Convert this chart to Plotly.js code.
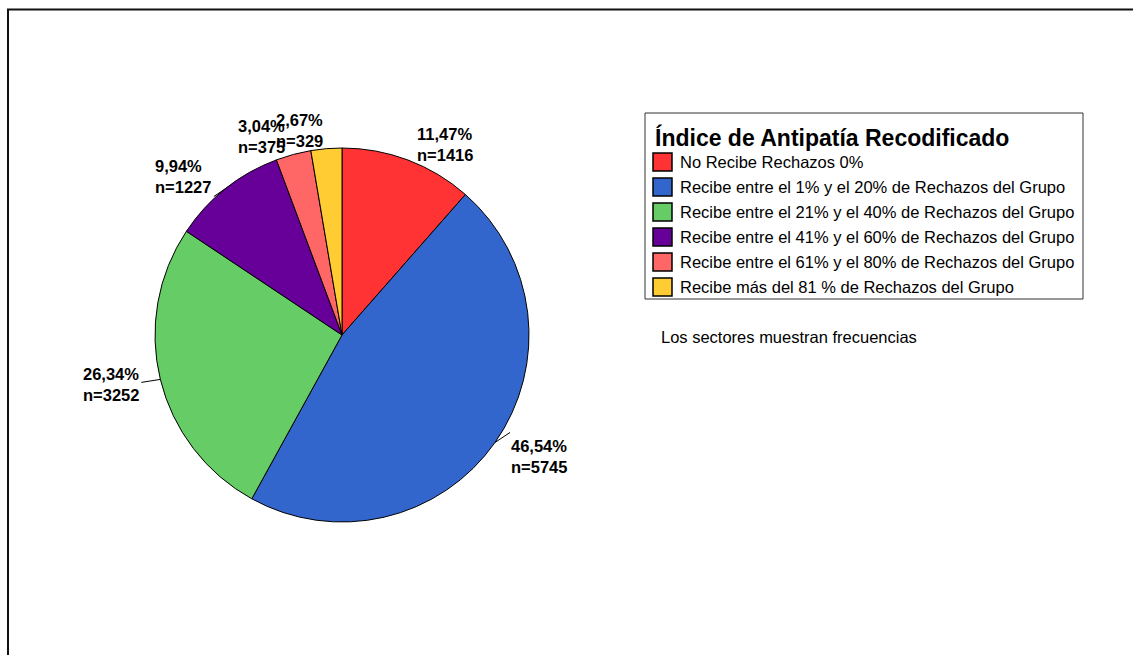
<!DOCTYPE html>
<html>
<head>
<meta charset="utf-8">
<script src="https://cdn.plot.ly/plotly-3.0.1.min.js"></script>
<style>html,body{margin:0;padding:0;background:#fff;}#chart{width:1133px;height:655px;}</style>
</head>
<body>
<div id="chart"></div>
<script>
// ---- data ----
const categories = [
  "No Recibe Rechazos 0%",
  "Recibe entre el 1% y el 20% de Rechazos del Grupo",
  "Recibe entre el 21% y el 40% de Rechazos del Grupo",
  "Recibe entre el 41% y el 60% de Rechazos del Grupo",
  "Recibe entre el 61% y el 80% de Rechazos del Grupo",
  "Recibe más del 81 % de Rechazos del Grupo"
];
const counts = [1416, 5745, 3252, 1227, 375, 329];
const colors = ["#FF3333", "#3366CC", "#66CC66", "#660099", "#FF6666", "#FFCC33"];
const legendTitle = "Índice de Antipatía Recodificado";
const note = "Los sectores muestran frecuencias";

// ---- layout helpers ----
const W = 1133, H = 655;
const px = x => x / W;
const py = y => 1 - y / H;
const pie = {x0: 155, x1: 529, y0: 148, y1: 522};
const cx = (pie.x0 + pie.x1) / 2, cy = (pie.y0 + pie.y1) / 2, R = (pie.x1 - pie.x0) / 2;
const FONT = "Liberation Sans, Arial, sans-serif";

// label placement (pixel offsets from the slice's rim point) and leader lines
const labelOffsets = [[7, -16, 'left'], [14, 14, 'left'], [-19, 5.5, 'right'], [-13, -12, 'right'], [-6, -18, 'right'], [-1, -18, 'right']];
const leaders = [null, [15, -10], [-19, 3], [-12, 8], null, null];

const total = counts.reduce((a, b) => a + b, 0);
const annotations = [];
const shapes = [];
let cum = 0;
counts.forEach((v, i) => {
  const mid = (cum + v / 2) / total * 2 * Math.PI;
  cum += v;
  const Px = cx + R * Math.sin(mid), Py = cy - R * Math.cos(mid);
  const pct = (v / total * 100).toFixed(2).replace('.', ',');
  const o = labelOffsets[i];
  annotations.push({
    xref: 'paper', yref: 'paper', x: px(Px + o[0]), y: py(Py + o[1]),
    xanchor: o[2], yanchor: 'middle', align: 'left', showarrow: false,
    text: '<b>' + pct + '%<br>n=' + v + '</b>',
    font: {family: FONT, size: 16.5, color: '#000'}
  });
  if (leaders[i]) {
    shapes.push({type: 'line', xref: 'paper', yref: 'paper',
      x0: px(Px), y0: py(Py), x1: px(Px + leaders[i][0]), y1: py(Py + leaders[i][1]),
      line: {color: '#000', width: 1}});
  }
});

// ---- legend box (drawn from categories / colors) ----
const leg = {x0: 645, x1: 1083, y0: 113, y1: 299, titleY: 137, row0: 162, rowStep: 25, swX: 653, swW: 19, swH: 18, textX: 678};
shapes.push({type: 'rect', xref: 'paper', yref: 'paper', x0: px(leg.x0), x1: px(leg.x1), y0: py(leg.y1), y1: py(leg.y0),
  line: {color: '#333', width: 1}, fillcolor: '#fff', layer: 'below'});
annotations.push({xref: 'paper', yref: 'paper', x: px(leg.swX), y: py(leg.titleY), xanchor: 'left', yanchor: 'middle',
  showarrow: false, text: '<b>' + legendTitle + '</b>', font: {family: FONT, size: 23, color: '#000'}});
categories.forEach((c, i) => {
  const yc = leg.row0 + i * leg.rowStep;
  shapes.push({type: 'rect', xref: 'paper', yref: 'paper', x0: px(leg.swX), x1: px(leg.swX + leg.swW),
    y0: py(yc + leg.swH / 2), y1: py(yc - leg.swH / 2), line: {color: '#000', width: 1.5}, fillcolor: colors[i]});
  annotations.push({xref: 'paper', yref: 'paper', x: px(leg.textX), y: py(yc), xanchor: 'left', yanchor: 'middle',
    showarrow: false, text: c, font: {family: FONT, size: 16.5, color: '#000'}});
});

annotations.push({
  xref: 'paper', yref: 'paper', x: px(659), y: py(337), xanchor: 'left', yanchor: 'middle',
  showarrow: false, text: note, font: {family: FONT, size: 16.5, color: '#000'}
});

// frame
shapes.push({type: 'rect', xref: 'paper', yref: 'paper', x0: px(8), x1: px(1300), y0: py(800), y1: py(9.5),
  line: {color: '#111', width: 2}, fillcolor: 'rgba(0,0,0,0)'});

const trace = {
  type: 'pie', values: counts, labels: categories, sort: false, direction: 'clockwise', rotation: 0,
  marker: {colors: colors, line: {color: '#000', width: 1}},
  textinfo: 'none', hoverinfo: 'none',
  domain: {x: [px(pie.x0), px(pie.x1)], y: [py(pie.y1), py(pie.y0)]}
};

const layout = {
  width: W, height: H, margin: {l: 0, r: 0, t: 0, b: 0},
  paper_bgcolor: '#fff', plot_bgcolor: '#fff',
  showlegend: false,
  annotations: annotations,
  shapes: shapes
};

Plotly.newPlot('chart', [trace], layout, {staticPlot: true, displayModeBar: false});
</script>
</body>
</html>
